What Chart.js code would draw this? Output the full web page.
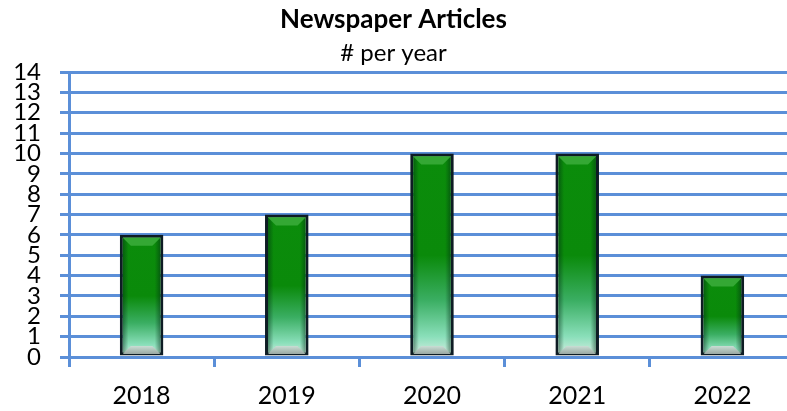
<!DOCTYPE html>
<html>
<head>
<meta charset="utf-8">
<script src="https://cdn.jsdelivr.net/npm/chart.js@4"></script>
<style>
html,body{margin:0;padding:0;background:#fff;overflow:hidden;}
#wrap{width:787px;height:411px;overflow:hidden;}
canvas{display:block;}
</style>
</head>
<body>
<div id="wrap"><canvas id="c" width="795" height="411"></canvas></div>
<script>
const categories = ['2018', '2019', '2020', '2021', '2022'];
const articles = [6, 7, 10, 10, 4];
const yTicks = [0,1,2,3,4,5,6,7,8,9,10,11,12,13,14];
const titleText = 'Newspaper Articles';
const subtitleText = '# per year';

const gridColor = '#5B8FD8';

function barGradient(ctx) {
  const chart = ctx.chart;
  const ys = chart.scales && chart.scales.y;
  if (!ys || ctx.raw === undefined) return '#0a8a0a';
  const top = ys.getPixelForValue(ctx.raw);
  const bottom = ys.getPixelForValue(0);
  if (!isFinite(top) || !isFinite(bottom) || top === bottom) return '#0a8a0a';
  const g = chart.ctx.createLinearGradient(0, top, 0, bottom);
  g.addColorStop(0, '#0b8c0b');
  g.addColorStop(0.5, '#0a8a0a');
  g.addColorStop(0.72, '#3aae62');
  g.addColorStop(0.9, '#8adfba');
  g.addColorStop(1, '#dcefe6');
  return g;
}

// keep the title block centred on the visible 787px window
const titleShift = {
  id: 'titleShift',
  afterLayout(chart) {
    chart.boxes.forEach((box) => {
      if (box.position === 'top' && !box.axis && box.options && box.options.text !== undefined) {
        box.right -= 8;
        box.width = box.right - box.left;
      }
    });
  }
};

const bevelPlugin = {
  id: 'bevel',
  afterDatasetsDraw(chart) {
    const ctx = chart.ctx;
    const meta = chart.getDatasetMeta(0);
    meta.data.forEach((bar) => {
      const p = bar.getProps(['x','y','base','width'], true);
      const b = 3;
      const l = p.x - p.width/2 + b, r = p.x + p.width/2 - b;
      const t = p.y + b, bt = p.base - 1.5;
      const d = 8;
      ctx.save();
      const hg = ctx.createLinearGradient(l, 0, r, 0);
      hg.addColorStop(0, 'rgba(0,40,20,0.45)');
      hg.addColorStop(0.15, 'rgba(0,40,20,0.0)');
      hg.addColorStop(0.85, 'rgba(0,40,20,0.0)');
      hg.addColorStop(1, 'rgba(0,40,20,0.45)');
      ctx.fillStyle = hg;
      ctx.fillRect(l, t, r - l, bt - t);
      ctx.beginPath();
      ctx.moveTo(l, t); ctx.lineTo(r, t); ctx.lineTo(r - d, t + d); ctx.lineTo(l + d, t + d); ctx.closePath();
      ctx.fillStyle = '#34a834';
      ctx.fill();
      const bg = ctx.createLinearGradient(0, bt - d, 0, bt);
      bg.addColorStop(0, '#c9ddd4');
      bg.addColorStop(1, '#9aa8a2');
      ctx.beginPath();
      ctx.moveTo(l, bt); ctx.lineTo(r, bt); ctx.lineTo(r - d, bt - d); ctx.lineTo(l + d, bt - d); ctx.closePath();
      ctx.fillStyle = bg;
      ctx.fill();
      ctx.restore();
    });
  }
};

new Chart(document.getElementById('c'), {
  type: 'bar',
  data: {
    labels: categories,
    datasets: [{
      data: articles,
      backgroundColor: barGradient,
      borderColor: '#0e1c24',
      borderWidth: 3,
      borderSkipped: false,
      barPercentage: 0.30,
      categoryPercentage: 1.0
    }]
  },
  options: {
    responsive: false,
    animation: false,
    events: [],
    layout: { padding: { left: 0, right: 0, top: 0, bottom: 0 } },
    plugins: {
      legend: { display: false },
      tooltip: { enabled: false },
      title: {
        display: true,
        text: titleText,
        color: '#000',
        font: { family: 'Lato', size: 26, weight: 'bold', lineHeight: 1.2 },
        padding: { top: 4, bottom: 0 }
      },
      subtitle: {
        display: true,
        text: subtitleText,
        color: '#000',
        font: { family: 'Lato', size: 24, lineHeight: 1.2 },
        padding: { top: 3.4, bottom: 4.6 }
      }
    },
    scales: {
      x: {
        offset: true,
        afterFit(scale) { scale.height = 54; },
        grid: { display: true, drawOnChartArea: false, drawTicks: true, tickLength: 10, color: gridColor, lineWidth: 3, offset: true },
        border: { display: true, color: gridColor, width: 3 },
        ticks: { color: '#000', font: { family: 'Lato', size: 25, lineHeight: 1.2 }, padding: 14, maxRotation: 0 }
      },
      y: {
        min: 0, max: 14,
        afterFit(scale) { scale.width = 69; },
        afterBuildTicks(scale) { scale.ticks = yTicks.map(v => ({ value: v })); },
        grid: { color: gridColor, lineWidth: 3, tickLength: 9, drawTicks: true },
        border: { display: true, color: gridColor, width: 3 },
        ticks: { autoSkip: false, color: '#000', font: { family: 'Lato', size: 24, lineHeight: 1 }, padding: 19, stepSize: 1 }
      }
    }
  },
  plugins: [titleShift, bevelPlugin]
});
</script>
</body>
</html>
